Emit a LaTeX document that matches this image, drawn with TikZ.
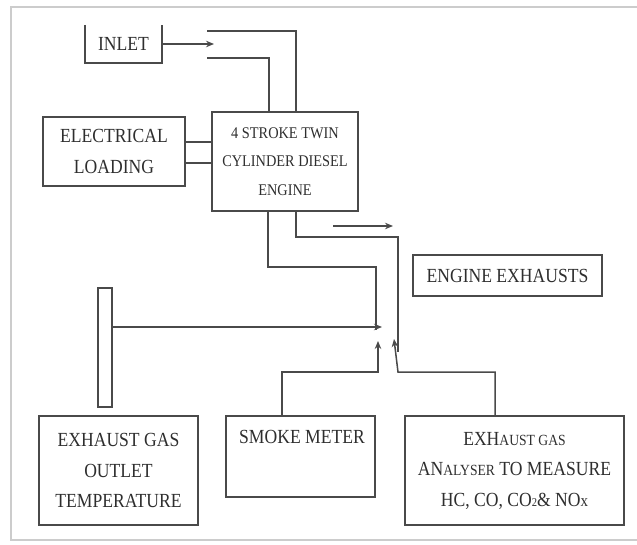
\documentclass[tikz,border=0pt]{standalone}
\usepackage{fontspec}
\setmainfont[FakeStretch=0.88]{Liberation Serif}
\usetikzlibrary{arrows.meta,calc}
\definecolor{ln}{HTML}{4A4A4A}
\definecolor{tx}{HTML}{2E2E2E}
\tikzset{
  box/.style={draw=ln, line width=1.6pt, rectangle, inner sep=0pt, align=center,
    text=tx, font=\fontsize{20}{30.5}\selectfont},
  wire/.style={draw=ln, line width=1.5pt},
  arr/.style={wire, -{Stealth[length=8pt,width=6.5pt]}},
  lbl/.style={text=tx, font=\fontsize{20}{30}\selectfont, inner sep=0pt, align=center}
}
\begin{document}
\begin{tikzpicture}[x=1pt,y=-1pt]
\useasboundingbox (0,0) rectangle (637,545);
% outer frame
\draw[draw=black!20, line width=1.5pt] (637,7) -- (11,7) -- (11,540) -- (637,540);
% inlet (open top)
\node[lbl, minimum width=77pt, minimum height=38pt] (inlet) at (123.5,44) {INLET};
\draw[wire] (inlet.north west) |- (inlet.south east) -- (inlet.north east);
\coordinate (inTip) at (214,44);
\draw[arr] (inlet.east) -- (inTip);
% engine
\node[box, minimum width=146pt, minimum height=99pt, font=\fontsize{16.3}{28.5}\selectfont] (eng) at (285,161.5)
  {4 STROKE TWIN\\CYLINDER DIESEL\\ENGINE};
% inlet pipe
\coordinate (pipeA) at (207,31);
\coordinate (pipeB) at (207,58);
\draw[wire] (pipeA) -| (eng.north -| 296,0);
\draw[wire] (pipeB) -| (eng.north -| 269,0);
% electrical loading
\node[box, minimum width=142pt, minimum height=69pt] (elec) at (114,151.5) {ELECTRICAL\\LOADING};
\draw[wire] (elec.east |- 0,142) -- (eng.west |- 0,142);
\draw[wire] (elec.east |- 0,163) -- (eng.west |- 0,163);
% exhaust lines
\coordinate (exL) at (376,330);
\coordinate (exR) at (398,352);
\draw[wire] (eng.south -| 268,0) |- (376,267) -- (exL);
\draw[wire] (eng.south -| 296,0) |- (398,237) -- (exR);
\coordinate (flowA) at (333,226);
\coordinate (flowB) at (393,226);
\draw[arr] (flowA) -- (flowB);
% engine exhausts
\node[box, minimum width=189pt, minimum height=41pt] (exh) at (507.5,275.5) {ENGINE EXHAUSTS};
% temperature probe bar
\node[box, minimum width=14.5pt, minimum height=119pt] (bar) at (105,347.5) {};
\coordinate (tTip) at (382,327);
\draw[arr] (bar.east |- 0,327) -- (tTip);
% bottom boxes
\node[box, minimum width=159pt, minimum height=109pt] (temp) at (118.5,470.5)
  {EXHAUST GAS\\OUTLET\\TEMPERATURE};
\node[box, minimum width=149pt, minimum height=81pt] (smoke) at (300.5,456.5) {};
\node[lbl] at (302,437) {SMOKE METER};
\node[box, minimum width=219pt, minimum height=109pt] (anal) at (514.5,470.5)
  {EXH{\fontsize{15.5}{30}\selectfont AUST GAS}\\AN{\fontsize{15.5}{30}\selectfont ALYSER} TO MEASURE\\HC, CO, CO{\fontsize{12}{12}\selectfont 2}\& NO{\fontsize{17}{30}\selectfont x}};
% up arrows
\coordinate (smTip) at (378,341);
\coordinate (anTip) at (394,339);
\draw[arr] (smoke.north -| 282,0) |- (378,372) -- (smTip);
\draw[arr] (anal.north -| 495,0) |- (398,372) -- (anTip);
\end{tikzpicture}
\end{document}
